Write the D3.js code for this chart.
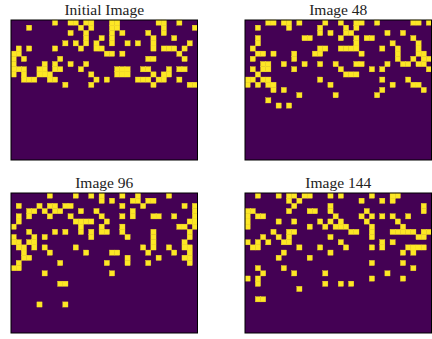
<!DOCTYPE html>
<html>
<head>
<meta charset="utf-8">
<script src="https://cdn.jsdelivr.net/npm/d3@7"></script>
<style>
  html, body { margin: 0; padding: 0; background: #ffffff; }
  svg { display: block; }
</style>
</head>
<body>
<div id="chart"></div>
<script>
// Binary 36x27 grids: each row lists the columns whose cell is "on".
const nCols = 36;
const nRows = 27;

const titles = ["Initial Image", "Image 48", "Image 96", "Image 144"];

const initialImage = [
  [8, 11, 12, 14, 15, 19, 20, 28, 29, 32],
  [3, 13, 15, 19, 20, 29, 35],
  [11, 14, 19, 21, 26, 29],
  [14, 17, 19, 27, 31],
  [10, 12, 14, 16, 19, 22, 24, 27, 34],
  [1, 3, 8, 13, 16, 17, 27, 29, 30, 31, 33],
  [0, 1, 18, 19, 21, 32],
  [0, 2, 9, 26, 27, 33],
  [0, 6, 8, 11, 14],
  [0, 1, 2, 5, 6, 8, 9, 13, 20, 21, 22, 25, 26, 30, 32, 33],
  [0, 2, 5, 6, 7, 15, 20, 21, 22, 27, 29, 30],
  [2, 3, 4, 7, 8, 16, 18, 24, 25, 26, 28, 29, 32],
  [10, 15, 27, 34, 35]
];

const image48 = [
  [4, 5, 7, 8, 10, 15, 18, 21, 22, 25, 32, 33, 35],
  [2, 8, 14, 19, 21],
  [14, 16, 19, 20, 27, 30],
  [2, 11, 12, 18, 21, 23, 24, 32],
  [2, 21, 28, 33],
  [1, 14, 15, 18, 19, 20, 21, 26, 29, 33],
  [2, 3, 5, 9, 13, 14, 22, 29, 33, 34],
  [1, 9, 29, 32, 34, 35],
  [3, 4, 7, 11, 14, 17, 21, 22, 27, 30, 31, 33, 34],
  [1, 3, 4, 9, 18, 24, 26, 35],
  [2, 19, 20, 21],
  [0, 1, 3, 4, 14, 26, 31],
  [0, 2, 4, 5, 16, 28, 32, 33],
  [5, 7, 26, 34],
  [10, 17, 25],
  [4],
  [6, 8]
];

const image96 = [
  [7, 12, 15, 17, 21, 24, 30],
  [17, 19, 23, 24, 26, 27],
  [1, 5, 7, 8, 10, 11, 21, 25, 33, 35],
  [3, 4, 6, 8, 9, 13, 16, 23, 35],
  [1, 3, 7, 11, 17, 21, 23, 27, 28, 31, 35],
  [1, 12, 13, 14, 15, 18, 34, 35],
  [0, 13, 17, 21, 32, 33, 35],
  [3, 8, 10, 13, 15, 17, 18, 21, 27, 34],
  [0, 4, 6, 15, 22, 27, 34],
  [0, 1, 3, 4, 27, 33],
  [1, 2, 4, 6, 12, 25, 27, 30, 33, 34],
  [2, 7, 14, 19, 20, 26, 31, 34],
  [2, 3, 22, 28, 33, 34],
  [1, 9, 18, 22, 26, 34],
  [0, 1],
  [6, 19],
  [],
  [9, 10],
  [],
  [],
  [],
  [5, 10]
];

const image144 = [
  [2, 6, 8, 9, 11, 12, 16, 18, 24, 28, 29],
  [8, 10, 22, 26, 28],
  [9, 16, 34],
  [0, 1, 8, 12, 13, 16, 23, 34],
  [0, 2, 3, 17, 22, 24, 26, 28, 31],
  [0, 6, 9, 14, 16, 18, 23, 29],
  [0, 12, 15, 17, 18, 19, 24, 30],
  [5, 8, 9, 20, 21, 24, 28, 29, 30, 31, 32, 34, 35],
  [3, 6, 8, 16, 24, 33, 34],
  [0, 2, 4, 7, 8, 18, 26, 28],
  [1, 2, 10, 14, 19, 24, 26, 31, 32, 33, 34],
  [7, 16, 30, 32],
  [6, 12],
  [24, 30],
  [2, 7, 32],
  [3, 9, 15, 27],
  [0, 2, 24, 30],
  [2, 15, 18, 20],
  [10],
  [],
  [2, 3]
];

const images = [initialImage, image48, image96, image144];

// Layout of the 2x2 panel grid
const width = 432, height = 339;
const panelX = [11, 245];
const panelY = [20, 193];
const panelW = 186.5, panelH = 140;

const svg = d3.select("#chart").append("svg")
  .attr("width", width)
  .attr("height", height);

const color = d3.scaleOrdinal().domain([0, 1]).range(["#440154", "#fde725"]);

images.forEach((rowsOn, i) => {
  const x0 = panelX[i % 2];
  const y0 = panelY[Math.floor(i / 2)];

  const x = d3.scaleBand().domain(d3.range(nCols)).range([0, panelW]).padding(0);
  const y = d3.scaleBand().domain(d3.range(nRows)).range([0, panelH]).padding(0);

  // expand the sparse row lists into a full cell grid
  const cells = [];
  for (let r = 0; r < nRows; r++) {
    const on = new Set(rowsOn[r] || []);
    for (let c = 0; c < nCols; c++) cells.push({ r, c, v: on.has(c) ? 1 : 0 });
  }

  const g = svg.append("g").attr("transform", `translate(${x0},${y0})`);

  g.append("rect")
    .attr("width", panelW).attr("height", panelH)
    .attr("fill", color(0));

  // a hairline stroke in the fill colour closes seams between touching cells
  g.selectAll("rect.cell")
    .data(cells.filter(d => d.v === 1))
    .join("rect")
    .attr("class", "cell")
    .attr("x", d => x(d.c))
    .attr("y", d => y(d.r))
    .attr("width", x.bandwidth())
    .attr("height", y.bandwidth())
    .attr("fill", d => color(d.v))
    .attr("stroke", d => color(d.v))
    .attr("stroke-width", 0.35);

  g.append("rect")
    .attr("width", panelW).attr("height", panelH)
    .attr("fill", "none")
    .attr("stroke", "#000")
    .attr("stroke-width", 1);

  svg.append("text")
    .attr("x", x0 + panelW / 2)
    .attr("y", y0 - 5)
    .attr("text-anchor", "middle")
    .attr("font-family", "'Liberation Serif', 'DejaVu Serif', serif")
    .attr("font-size", 15.5)
    .attr("fill", "#222")
    .text(titles[i]);
});
</script>
</body>
</html>
